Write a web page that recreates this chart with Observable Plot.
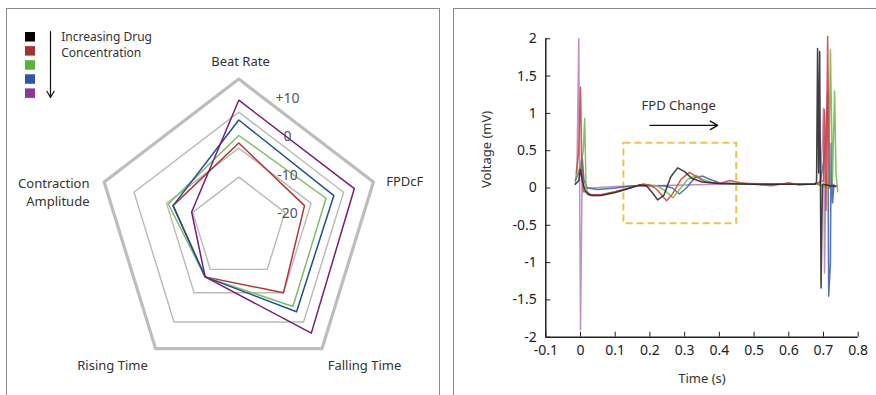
<!DOCTYPE html>
<html>
<head>
<meta charset="utf-8">
<script src="https://cdn.jsdelivr.net/npm/d3@7"></script>
<script src="https://cdn.jsdelivr.net/npm/@observablehq/plot@0.6"></script>
<style>
  html, body { margin: 0; padding: 0; background: #fff; }
  #wrap { position: relative; width: 876px; height: 395px; overflow: hidden; background: #fff; }
  .panel { position: absolute; border: 1px solid #8a8a8a; pointer-events: none; z-index: 5; }
  #left, #right { position: absolute; top: 0; }
  #left { left: 0; }
  #right { left: 440px; }
</style>
</head>
<body>
<div id="wrap">
  <div class="panel" style="left:6px; top:8px; width:432px; height:420px;"></div>
  <div class="panel" style="left:453px; top:8px; width:460px; height:420px;"></div>
  <div id="left"></div>
  <div id="right"></div>
</div>
<script>
// ---------------- Radar data ----------------
const radarAxes = ["Beat Rate", "FPDcF", "Falling Time", "Rising Time", "Contraction Amplitude"];
const ringLevels = [-20, -10, 0, 10];
const ringLabels = ["-20", "-10", "0", "+10"];
const legendColors = ["#000000", "#a83232", "#5fae3e", "#2f56a6", "#8f3596"];
const legendLines = ["Increasing Drug", "Concentration"];
const radarColors = ["#b03636", "#7dbd6a", "#1f4f8f", "#791b76"];
const radarRed = [-8.6, -12.5, -10.0, -16.8, -12.5];
const radarGreen = [-6.5, -5.4, -5.3, -16.8, -10.7];
const radarBlue = [-2.2, -3.0, -3.5, -16.8, -12.5];
const radarPurple = [3.6, 3.6, 4.2, -16.8, -19.6];

// ---------------- Field potential traces ----------------
const tPurple = [-0.015, -0.01, -0.005, 0.0, 0.005, 0.01, 0.03, 0.1, 0.2, 0.3, 0.4, 0.5, 0.6, 0.69, 0.697, 0.7, 0.703, 0.707, 0.71, 0.73];
const vPurple = [0.05, 0.3, 2.0, -1.9, 0.3, 0.0, 0.0, 0.02, 0.03, 0.04, 0.05, 0.06, 0.05, 0.05, 0.6, 1.07, -1.14, 0.2, 0.03, 0.03];
const tBlue = [-0.015, -0.005, 0.005, 0.01, 0.02, 0.05, 0.1, 0.15, 0.2, 0.24, 0.265, 0.285, 0.305, 0.33, 0.352, 0.37, 0.4, 0.5, 0.6, 0.69, 0.705, 0.712, 0.715, 0.72, 0.722, 0.726, 0.73, 0.74];
const vBlue = [0.1, 0.2, 0.4, 0.1, 0.0, -0.02, 0.0, 0.03, 0.03, 0.03, 0.0, -0.08, 0.0, 0.14, 0.16, 0.12, 0.07, 0.05, 0.05, 0.05, 0.5, 1.3, -1.45, -1.0, 0.6, -0.2, 0.03, 0.03];
const tGreen = [-0.012, 0.0, 0.008, 0.012, 0.016, 0.025, 0.05, 0.1, 0.14, 0.18, 0.22, 0.245, 0.266, 0.285, 0.31, 0.333, 0.355, 0.38, 0.45, 0.6, 0.68, 0.715, 0.72, 0.726, 0.732, 0.736, 0.741];
const vGreen = [0.15, 0.3, 0.5, 0.93, 0.0, -0.1, -0.1, -0.05, 0.0, 0.05, 0.03, -0.04, -0.13, -0.02, 0.12, 0.17, 0.11, 0.07, 0.05, 0.05, 0.05, 0.0, 1.85, 0.1, 1.3, 0.2, -0.05];
const tRed = [-0.012, -0.005, 0.0, 0.004, 0.008, 0.015, 0.03, 0.06, 0.1, 0.14, 0.18, 0.2, 0.22, 0.248, 0.265, 0.29, 0.314, 0.335, 0.36, 0.4, 0.43, 0.46, 0.5, 0.55, 0.6, 0.63, 0.68, 0.7, 0.703, 0.707, 0.712, 0.717, 0.73];
const vRed = [0.2, 0.5, 1.35, 0.2, -0.05, -0.05, -0.09, -0.09, -0.05, 0.0, 0.05, 0.04, -0.02, -0.17, -0.08, 0.12, 0.21, 0.15, 0.08, 0.06, 0.1, 0.07, 0.05, 0.03, 0.07, 0.04, 0.06, 0.1, 1.05, -0.3, 2.03, 0.0, 0.05];
const tBlack = [-0.015, -0.005, 0.0, 0.005, 0.012, 0.02, 0.035, 0.06, 0.1, 0.13, 0.17, 0.19, 0.21, 0.222, 0.24, 0.26, 0.28, 0.3, 0.32, 0.35, 0.4, 0.5, 0.6, 0.675, 0.68, 0.683, 0.686, 0.689, 0.693, 0.697, 0.72, 0.735];
const vBlack = [0.05, 0.1, 0.25, 0.1, -0.02, -0.08, -0.1, -0.1, -0.06, -0.02, 0.04, 0.03, -0.08, -0.16, -0.1, 0.15, 0.27, 0.22, 0.13, 0.08, 0.06, 0.05, 0.05, 0.05, 0.08, 1.87, 0.2, 1.83, -1.34, 0.05, 0.03, 0.02];
const traceColors = ["#b884c0", "#3f63b3", "#76b94f", "#d24545", "#2a2a2a"];
const xTicks = [-0.1, 0, 0.1, 0.2, 0.3, 0.4, 0.5, 0.6, 0.7, 0.8];
const xTickLabels = ["-0.1", "0", "0.1", "0.2", "0.3", "0.4", "0.5", "0.6", "0.7", "0.8"];
const yTicks = [-2, -1.5, -1, -0.5, 0, 0.5, 1, 1.5, 2];
const yTickLabels = ["-2", "-1.5", "-1", "-0.5", "0", "0.5", "1", "1.5", "2"];

const FONT = "'Noto Sans', 'DejaVu Sans', sans-serif";

// ---------------- Left: radar ----------------
{
  const cx = 238.3, cy = 227.6, sx = 0.95;
  const rScale = d3.scaleLinear().domain([-37.6, -20, -10, 0, 10]).range([0, 51, 80, 116, 149]);
  const pt = (i, r) => {
    const a = i * 2 * Math.PI / 5;
    return {x: Math.sin(a) * r * sx, y: Math.cos(a) * r};
  };
  const rings = ringLevels.flatMap(l => radarAxes.map((a, i) => ({level: l, ...pt(i, rScale(l))})));
  const series = [radarRed, radarGreen, radarBlue, radarPurple];
  const polys = series.flatMap((vals, s) => vals.map((v, i) => ({s, color: radarColors[s], ...pt(i, rScale(v))})));

  // axis label placement (offsets from outer ring vertex)
  const outer = rScale(10);
  const offsets = [[1.7, 17.6, "middle"], [12.8, 0.6, "start"], [42.5, -17.5, "middle"], [-43.1, -17.5, "middle"], [-14.7, -10.7, "end"]];
  const lab = radarAxes.flatMap((name, i) => {
    const p = pt(i, outer);
    const off = offsets[i];
    const words = i === 4 ? name.split(" ") : [name];
    return words.map((w, j) => ({name: w, x: p.x + off[0], y: p.y + off[1] + (words.length > 1 ? (j === 0 ? 9 : -9) : 0), anchor: off[2]}));
  });
  // legend
  const legend = legendColors.map((c, i) => ({c, y1: cy - (32 + i * 14.1), y2: cy - (41.5 + i * 14.1)}));

  const left = Plot.plot({
    width: 440, height: 395,
    margin: 0,
    x: {domain: [-cx, 440 - cx], axis: null},
    y: {domain: [cy - 395, cy], axis: null},
    style: {fontFamily: FONT, background: "transparent", color: "#333"},
    marks: [
      Plot.line(rings.filter(d => d.level !== 10), {x: "x", y: "y", z: "level", curve: "linear-closed", stroke: "#b9b9b9", strokeWidth: 1.4}),
      Plot.line(rings.filter(d => d.level === 10), {x: "x", y: "y", z: "level", curve: "linear-closed", stroke: "#bdbdbd", strokeWidth: 3.2}),
      Plot.line(polys, {x: "x", y: "y", z: "s", curve: "linear-closed", stroke: "color", strokeWidth: 1.5}),
      Plot.text(ringLabels, {x: 48.7, y: (d, i) => 14.6 + i * 38.3, text: d => d, fontSize: 14, fill: "#555"}),
      Plot.text(lab.filter(d => d.anchor === "middle"), {x: "x", y: "y", text: "name", textAnchor: "middle", fontSize: 13, fill: "#333"}),
      Plot.text(lab.filter(d => d.anchor === "start"), {x: "x", y: "y", text: "name", textAnchor: "start", fontSize: 13, fill: "#333"}),
      Plot.text(lab.filter(d => d.anchor === "end"), {x: "x", y: "y", text: "name", textAnchor: "end", fontSize: 13, fill: "#333"}),
      Plot.rect(legend, {x1: 25 - cx, x2: 35 - cx, y1: "y1", y2: "y2", fill: "c"}),
      Plot.arrow([0], {x1: 50 - cx, x2: 50 - cx, y1: cy - 31, y2: cy - 97, stroke: "#111", strokeWidth: 1.2, headLength: 9, bend: 0}),
      Plot.text(legendLines, {x: 60.7 - cx, y: (d, i) => cy - 37 - i * 16, text: d => d, textAnchor: "start", fontSize: 12, fill: "#333"})
    ]
  });
  document.getElementById("left").append(left);
}

// ---------------- Right: traces ----------------
{
  const mk = (t, v, name) => t.map((x, i) => ({t: x, v: v[i], name}));
  const traces = [
    mk(tPurple, vPurple, "purple"),
    mk(tBlue, vBlue, "blue"),
    mk(tGreen, vGreen, "green"),
    mk(tRed, vRed, "red"),
    mk(tBlack, vBlack, "black")
  ];
  const right = Plot.plot({
    width: 436, height: 395,
    marginLeft: 105.3, marginRight: 18.3, marginTop: 38.3, marginBottom: 58.3,
    x: {domain: [-0.1, 0.8]},
    y: {domain: [-2, 2]},
    style: {fontFamily: FONT, fontSize: "14px", background: "transparent", color: "#222"},
    marks: [
      Plot.rect([0], {x1: 0.125, x2: 0.45, y1: -0.48, y2: 0.6, fill: "none", stroke: "#f0c24a", strokeWidth: 2, strokeDasharray: "7,4"}),
      ...traces.map((d, k) => Plot.line(d, {x: "t", y: "v", stroke: traceColors[k], strokeWidth: 1.5, strokeOpacity: 0.9})),
      Plot.axisX({ticks: xTicks, tickSize: -5, tickPadding: 13, tickFormat: d => xTickLabels[xTicks.indexOf(d)], label: null, fontSize: 14, stroke: "#222"}),
      Plot.axisY({ticks: yTicks, tickSize: -5, tickPadding: 14, tickFormat: d => yTickLabels[yTicks.indexOf(d)], label: null, fontSize: 14, stroke: "#222"}),
      Plot.ruleY([-2], {stroke: "#222", strokeWidth: 1.5}),
      Plot.ruleX([-0.1], {stroke: "#222", strokeWidth: 1.5}),
      Plot.text(["Time (s)"], {frameAnchor: "bottom", dy: 46, text: d => d, fontSize: 13, fill: "#333"}),
      Plot.text(["Voltage (mV)"], {frameAnchor: "left", dx: -58.6, rotate: -90, text: d => d, fontSize: 13, fill: "#333"}),
      Plot.text(["FPD Change"], {x: 0.283, y: 1.1, text: d => d, fontSize: 13, fill: "#333"}),
      Plot.arrow([0], {x1: 0.2, x2: 0.395, y1: 0.84, y2: 0.84, stroke: "#111", strokeWidth: 1.4, headLength: 9})
    ]
  });
  document.getElementById("right").append(right);
}
</script>
</body>
</html>
